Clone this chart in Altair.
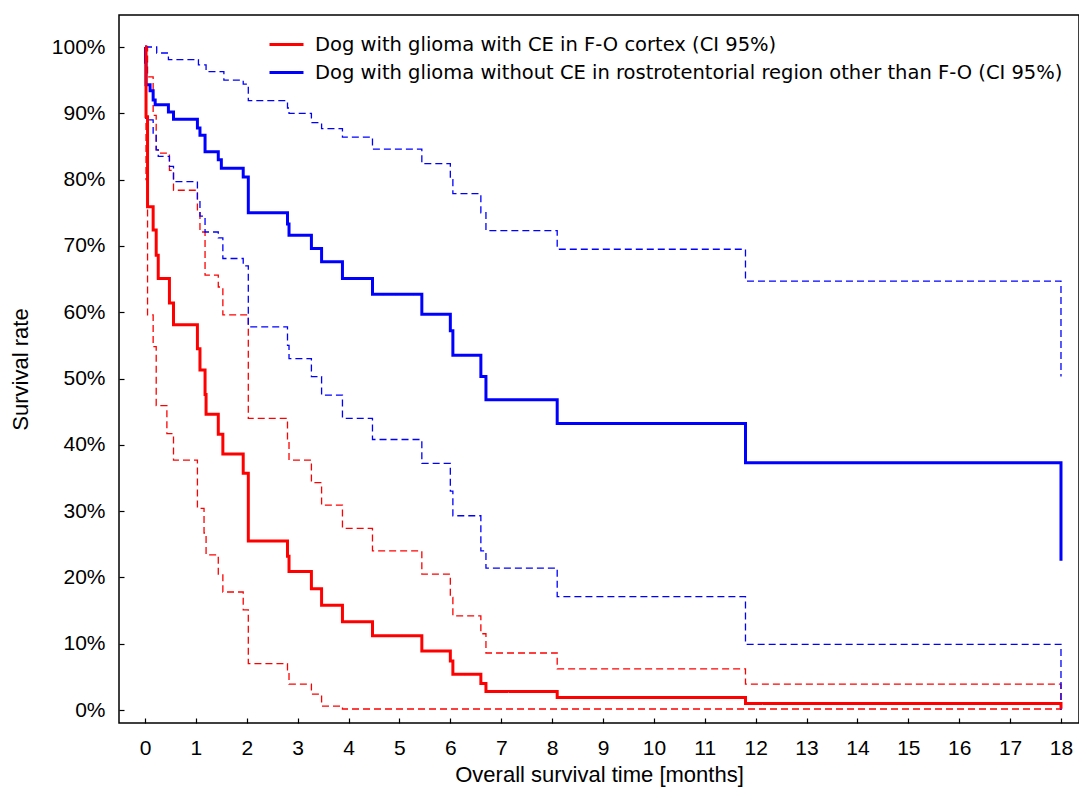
import altair as alt
import pandas as pd

grp_red = "Dog with glioma with CE in F-O cortex (CI 95%)"
grp_blue = "Dog with glioma without CE in rostrotentorial region other than F-O (CI 95%)"

# Red group: estimate and 95% CI bounds (months, % surviving)
t_red_est = [0, 0.02, 0.05, 0.16, 0.22, 0.26, 0.48, 0.56, 1.03, 1.08, 1.18, 1.2, 1.44, 1.53, 1.93,
             2.03, 2.8, 2.83, 3.27, 3.47, 3.88, 4.47, 5.44, 6.0, 6.05, 6.6, 6.7, 8.1, 11.8, 18]
v_red_est = [100, 89.5, 75.9, 72.4, 68.6, 65.1, 61.4, 58.1, 54.5, 51.3, 47.6, 44.6, 41.6, 38.6, 35.7,
             25.5, 23.2, 20.9, 18.3, 15.8, 13.3, 11.2, 8.9, 7.4, 5.4, 4.0, 2.8, 1.9, 1.0, 0.2]

t_red_up = [0, 0.05, 0.16, 0.22, 0.26, 0.48, 0.56, 1.03, 1.08, 1.18, 1.44, 1.53, 2.03, 2.8, 2.83,
            3.27, 3.47, 3.88, 4.47, 5.44, 6.0, 6.05, 6.6, 6.7, 8.1, 11.8, 18]
v_red_up = [100, 95.5, 89.7, 84.5, 84.0, 81.4, 78.4, 75.2, 72.1, 65.6, 63.8, 59.6, 44.0, 40.5, 37.7,
            34.3, 30.9, 27.4, 24.0, 20.5, 17.0, 14.2, 11.5, 8.6, 6.2, 3.9, 0.3]

t_red_lo = [0, 0.02, 0.05, 0.16, 0.22, 0.43, 0.56, 1.03, 1.16, 1.2, 1.44, 1.53, 1.93, 2.03, 2.8,
            2.83, 3.27, 3.47, 3.88, 18]
v_red_lo = [100, 80, 59.6, 54.8, 45.9, 41.7, 37.7, 30.4, 26.7, 23.4, 20.5, 17.8, 15.1, 7.0, 5.6,
            3.9, 2.4, 0.6, 0.15, 0.0]

# Blue group: estimate and 95% CI bounds
t_blue_est = [0, 0.01, 0.02, 0.1, 0.16, 0.2, 0.46, 0.56, 1.03, 1.08, 1.18, 1.44, 1.5, 1.93, 2.03,
              2.8, 2.83, 3.27, 3.47, 3.88, 4.47, 5.44, 6.0, 6.05, 6.6, 6.7, 8.1, 11.8, 18]
v_blue_est = [100, 97.7, 94.3, 93.4, 92.0, 91.3, 90.2, 89.1, 87.8, 86.7, 84.2, 83.0, 81.7, 80.4, 75.0,
              73.3, 71.6, 69.6, 67.6, 65.1, 62.7, 59.7, 57.2, 53.5, 50.3, 46.8, 43.2, 37.3, 22.5]

t_blue_up = [0, 0.23, 0.46, 1.05, 1.2, 1.55, 1.93, 2.03, 2.8, 2.83, 3.27, 3.47, 3.88, 4.47, 5.44,
             6.0, 6.05, 6.6, 6.7, 8.1, 11.8, 18]
v_blue_up = [100, 99.1, 98.1, 97.3, 96.3, 95.0, 94.4, 91.9, 90.8, 90.0, 88.6, 87.7, 86.4, 84.6, 82.4,
             80.0, 77.9, 75.0, 72.3, 69.5, 64.7, 50.3]

t_blue_lo = [0, 0.02, 0.16, 0.22, 0.26, 0.48, 0.56, 1.03, 1.08, 1.18, 1.44, 1.53, 1.93, 2.03, 2.8,
             2.83, 3.27, 3.47, 3.88, 4.47, 5.44, 6.0, 6.05, 6.6, 6.7, 8.1, 11.8, 18]
v_blue_lo = [100, 89.0, 87.0, 84.5, 83.5, 82.0, 79.7, 76.9, 74.5, 72.1, 71.2, 68.1, 67.0, 57.8, 55.0,
             53.0, 50.3, 47.5, 44.0, 40.8, 37.2, 33.0, 29.3, 24.0, 21.4, 17.1, 9.9, 0.0]

x_ticks = list(range(0, 19))
y_ticks = list(range(0, 101, 10))

rows = []
def add(group, kind, name, ts, vs):
    for t, v in zip(ts, vs):
        rows.append({"time": t, "rate": v, "group": group, "kind": kind, "series": name})

# CI lines first so the estimates are drawn on top
add(grp_red, "ci", "red_up", t_red_up, v_red_up)
add(grp_red, "ci", "red_lo", t_red_lo, v_red_lo)
add(grp_blue, "ci", "blue_up", t_blue_up, v_blue_up)
add(grp_blue, "ci", "blue_lo", t_blue_lo, v_blue_lo)
add(grp_blue, "est", "blue_est", t_blue_est, v_blue_est)
add(grp_red, "est", "red_est", t_red_est, v_red_est)
df = pd.DataFrame(rows)

x = alt.X("time:Q",
          scale=alt.Scale(domain=[-0.511, 18.354], nice=False, zero=False),
          axis=alt.Axis(values=x_ticks, title="Overall survival time [months]", offset=-5,
                        tickSize=5, labelPadding=14, domain=False, grid=False, titlePadding=6,
                        labelFlush=False))
y = alt.Y("rate:Q",
          scale=alt.Scale(domain=[-1.96, 104.83], nice=False, zero=False),
          axis=alt.Axis(values=y_ticks, labelExpr="datum.value + '%'", title="Survival rate",
                        offset=-5, tickSize=5, labelPadding=14, domain=False, grid=False,
                        titlePadding=19))
color = alt.Color("group:N",
                  scale=alt.Scale(domain=[grp_red, grp_blue], range=["#ff0000", "#0000ff"]),
                  legend=alt.Legend(title=None, orient="none", legendX=149, legendY=11,
                                    symbolType="stroke", symbolSize=1156, symbolStrokeWidth=3,
                                    labelFont="DejaVu Sans", labelFontSize=19.5, labelLimit=0,
                                    labelOffset=10, rowPadding=-4, labelColor="black", padding=0))

chart = alt.Chart(df).mark_line(interpolate="step-after").encode(
    x=x,
    y=y,
    color=color,
    strokeDash=alt.StrokeDash("kind:N", scale=alt.Scale(domain=["est", "ci"], range=[[1, 0], [7, 4]]), legend=None),
    strokeWidth=alt.StrokeWidth("kind:N", scale=alt.Scale(domain=["est", "ci"], range=[3, 1.3]), legend=None),
    detail="series:N",
).properties(
    width=960, height=708,
    autosize=alt.AutoSizeParams(type="none"),
    padding={"left": 111, "top": 7, "right": 0, "bottom": 67},
).configure_view(
    stroke="black", strokeWidth=1.5
).configure_axis(
    labelFont="Liberation Sans", titleFont="Liberation Sans",
    labelFontSize=21, titleFontSize=22, titleFontWeight="normal",
    labelColor="black", titleColor="black", tickColor="black", tickWidth=1.2
)

chart.save("out.html", embed_options={"renderer": "svg", "actions": False})
